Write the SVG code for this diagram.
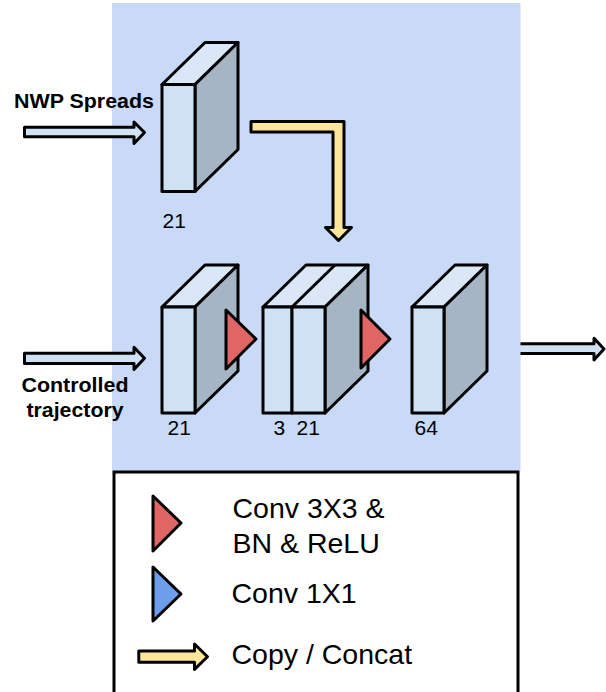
<svg xmlns="http://www.w3.org/2000/svg" width="606" height="692" viewBox="0 0 606 692">
<style>
.s{stroke:#000;stroke-width:3;stroke-linejoin:round}
.front{fill:#cfe2f3}
.top{fill:#d9e7f6}
.side{fill:#a6b5c4}
.red{fill:#e06666}
.blu{fill:#6d9eeb}
.inarr{fill:#cfe2f3}
.yel{fill:#ffe599}
.lbl{font-family:"Liberation Sans",Arial,sans-serif;font-weight:bold;font-size:20px;fill:#000}
.num{font-family:"Liberation Sans",Arial,sans-serif;font-size:21px;fill:#000}
.leg{font-family:"Liberation Sans",Arial,sans-serif;font-size:28.5px;fill:#000}
</style>
<rect width="606" height="692" fill="#fff"/>
<g id="connectors-under">
<path id="out-arrow" class="s inarr" d="M500,343.8 H594 V338.2 L604,349 L594,360 V353.5 H500 Z"/>
</g>
<rect id="background" x="112" y="3" width="408.5" height="468" fill="#c9daf8"/>
<g id="connectors">
<path id="nwp-arrow" class="s inarr" d="M24.5,127.2 H134 V122 L144.5,132.5 L134,143.5 V136.8 H24.5 Z"/>
<path id="ctrl-arrow" class="s inarr" d="M24.5,353.2 H134 V347.3 L144.5,358.3 L134,369.4 V363.5 H24.5 Z"/>
<path id="copy-arrow" class="s yel" d="M251,121.5 H344 V227.5 H351.5 L338.5,240.5 L325.5,227.5 H333 V132 H251 Z"/>
</g>
<g id="nwp-block">
<polygon class="s top" points="162,84.5 205,42.5 238,42.5 195,84.5"/>
<polygon class="s side" points="195,84.5 238,42.5 238,149.5 195,191.5"/>
<rect class="s front" x="162" y="84.5" width="33" height="107"/>
<text class="num" x="162.5" y="228">21</text>
</g>
<g id="ctrl-block">
<polygon class="s top" points="162,307 205,265 238,265 195,307"/>
<polygon class="s side" points="195,307 238,265 238,371 195,413"/>
<rect class="s front" x="162" y="307" width="33" height="106"/>
<text class="num" x="167.5" y="435">21</text>
</g>
<g id="conv1">
<polygon class="s red" points="226,310 226,369 256,339"/>
</g>
<g id="concat-block">
<polygon class="s top" points="263,307 306,265 368,265 325,307"/>
<line class="s" x1="292" y1="307" x2="335" y2="265"/>
<polygon class="s side" points="325,307 368,265 368,371 325,413"/>
<rect class="s front" x="263" y="307" width="29" height="106"/>
<rect class="s front" x="292" y="307" width="33" height="106"/>
<text class="num" x="273.5" y="435">3</text>
<text class="num" x="296.5" y="435">21</text>
</g>
<g id="conv2">
<polygon class="s red" points="361,310 361,368 390,339"/>
</g>
<g id="out-block">
<polygon class="s top" points="412,307 455,265 487,265 444,307"/>
<polygon class="s side" points="444,307 487,265 487,371 444,413"/>
<rect class="s front" x="412" y="307" width="32" height="106"/>
<text class="num" x="414.5" y="435">64</text>
</g>
<g id="input-labels">
<text class="lbl" x="14" y="108" textLength="140" lengthAdjust="spacingAndGlyphs">NWP Spreads</text>
<text class="lbl" x="21.5" y="392" textLength="107" lengthAdjust="spacingAndGlyphs">Controlled</text>
<text class="lbl" x="26.5" y="417" textLength="97" lengthAdjust="spacingAndGlyphs">trajectory</text>
</g>
<g id="legend">
<rect x="114" y="472" width="404" height="240" fill="#fff" stroke="#000" stroke-width="3"/>
<polygon class="s red" points="153,496 153,551 181,523"/>
<text class="leg" x="232.5" y="518">Conv 3X3 &amp;</text>
<text class="leg" x="232.5" y="553">BN &amp; ReLU</text>
<polygon class="s blu" points="153,567 153,621 181,594"/>
<text class="leg" x="231.5" y="603">Conv 1X1</text>
<path class="s yel" d="M138.8,651 H194.5 V644 L207.5,656.7 L194.5,669.4 V662.2 H138.8 Z"/>
<text class="leg" x="231.5" y="664">Copy / Concat</text>
</g>
</svg>
